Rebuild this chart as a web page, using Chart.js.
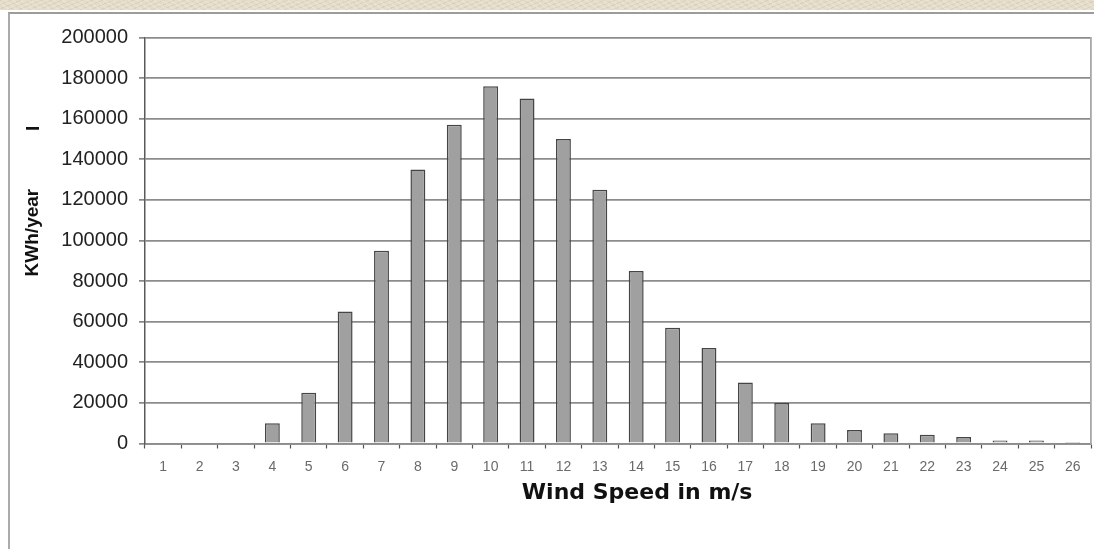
<!DOCTYPE html>
<html>
<head>
<meta charset="utf-8">
<script src="https://cdn.jsdelivr.net/npm/chart.js@4/dist/chart.umd.min.js"></script>
<style>
  html, body { margin: 0; padding: 0; width: 1094px; height: 549px; overflow: hidden; }
  body {
    position: relative;
    background-color: #e4dbc9;
    background-image:
      repeating-linear-gradient(37deg, rgba(255,255,255,0.18) 0 2px, rgba(0,0,0,0) 2px 5px),
      repeating-linear-gradient(-23deg, rgba(120,100,70,0.10) 0 1px, rgba(0,0,0,0) 1px 4px);
  }
  #panel {
    position: absolute; left: 0; top: 10px; width: 1094px; height: 539px;
    background: #ffffff;
  }
  #frame {
    position: absolute; left: 8px; top: 12px; width: 1100px; height: 560px;
    border-top: 2px solid #9c9c9c; border-left: 2px solid #ababab;
    background: #ffffff;
  }
  #c { position: absolute; left: 0; top: 0; }
</style>
</head>
<body>
<div id="panel"></div>
<div id="frame"></div>
<canvas id="c" width="1094" height="549"></canvas>
<script>
// ---- data ----
const windSpeeds = ['1','2','3','4','5','6','7','8','9','10','11','12','13','14','15','16','17','18','19','20','21','22','23','24','25','26'];
const energyKWh  = [0, 0, 0, 10000, 25000, 65000, 95000, 135000, 157000, 176000, 170000, 150000, 125000, 85000, 57000, 47000, 30000, 20000, 10000, 6700, 5000, 4300, 3200, 1500, 1500, 800];
const yMin = 0;
const yMax = 200000;
const yStep = 20000;
const xTitle = '     Wind Speed in m/s';
const yTitle = '   KWh/year';
const yMark = 'I';

const markPlugin = {
  id: 'markPlugin',
  afterDraw(chart) {
    const ctx = chart.ctx;
    ctx.save();
    ctx.translate(33.5, 128.3);
    ctx.rotate(-Math.PI / 2);
    ctx.font = 'bold 19px "Liberation Sans", Arial, sans-serif';
    ctx.fillStyle = '#111111';
    ctx.textAlign = 'center';
    ctx.textBaseline = 'middle';
    ctx.fillText(yMark, 0, 0);
    ctx.restore();
  }
};

new Chart(document.getElementById('c'), {
  type: 'bar',
  data: {
    labels: windSpeeds,
    datasets: [{
      data: energyKWh,
      backgroundColor: '#a0a0a0',
      borderColor: '#454545',
      borderWidth: 1.5,
      borderSkipped: 'bottom',
      barPercentage: 0.41,
      categoryPercentage: 1.0
    }]
  },
  options: {
    responsive: false,
    animation: false,
    devicePixelRatio: 1,
    layout: { padding: { left: 0, right: 0, top: 37.5, bottom: 0 } },
    plugins: { legend: { display: false }, tooltip: { enabled: false } },
    scales: {
      x: {
        offset: true,
        grid: { display: true, drawOnChartArea: false, offset: true, tickLength: 5, tickColor: '#555555', tickWidth: 1.2 },
        border: { display: true, color: '#8c8c8c', width: 1.8 },
        ticks: { font: { family: '"Liberation Sans", Arial, sans-serif', size: 14 }, color: '#6a6a6a', padding: 10, maxRotation: 0, autoSkip: false },
        title: { display: true, text: xTitle, color: '#111111',
                 font: { family: '"DejaVu Sans", sans-serif', size: 22, weight: 'bold' },
                 padding: { top: 0, bottom: 42.8 } },
        afterFit(s) { s.height = 549 - 443.5; }
      },
      y: {
        min: yMin, max: yMax,
        grid: { color: '#8c8c8c', lineWidth: 1.8, tickLength: 6, tickColor: '#555555', tickWidth: 1.2 },
        border: { display: true, color: '#5a5a5a', width: 1.5 },
        ticks: { stepSize: yStep, format: { useGrouping: false },
                 font: { family: '"Liberation Sans", Arial, sans-serif', size: 20 }, color: '#222222', padding: 11 },
        title: { display: true, text: yTitle, color: '#111111',
                 font: { family: '"Liberation Sans", Arial, sans-serif', size: 19, weight: 'bold' },
                 padding: { top: 21.6, bottom: 0 } },
        afterFit(s) { s.width = 145; }
      },
      y2: {
        position: 'right',
        min: 0, max: 1,
        grid: { display: false },
        ticks: { display: false },
        border: { display: true, color: '#a8a8a8', width: 1.8 },
        afterFit(s) { s.width = 3; }
      }
    }
  },
  plugins: [markPlugin]
});
</script>
</body>
</html>
